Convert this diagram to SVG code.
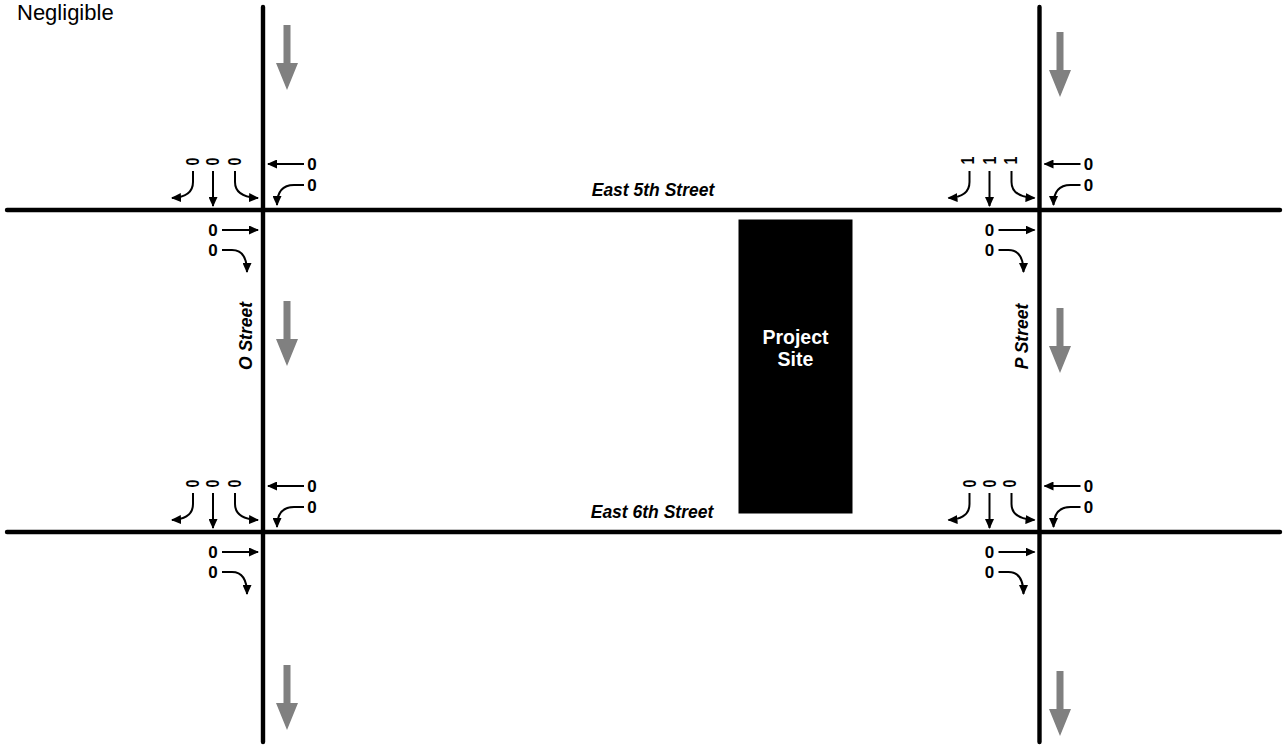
<svg xmlns="http://www.w3.org/2000/svg" xmlns:xlink="http://www.w3.org/1999/xlink" width="1286" height="745" viewBox="0 0 1286 745">
  <style>
    .road { stroke: #000; stroke-width: 4.4; stroke-linecap: round; fill: none; }
    .mv { stroke: #000; stroke-width: 2; fill: none; marker-end: url(#tip); }
    .vol { font-family: "Liberation Sans", Arial, sans-serif; font-weight: bold; font-size: 17px; fill: #000; }
    .rot { font-size: 18px; }
    .street { font-family: "Liberation Sans", Arial, sans-serif; font-weight: bold; font-style: italic; font-size: 17.5px; fill: #000; text-anchor: middle; }
    .site { font-family: "Liberation Sans", Arial, sans-serif; font-weight: bold; font-size: 19.5px; fill: #fff; text-anchor: middle; }
    .note { font-family: "Liberation Sans", Arial, sans-serif; font-size: 22px; fill: #000; }
    .flow { fill: #808080; }
  </style>
  <defs>
    <marker id="tip" viewBox="0 0 10 9" refX="9" refY="4.5" markerWidth="10" markerHeight="9" markerUnits="userSpaceOnUse" orient="auto">
      <path d="M0,0 L10,4.5 L0,9 Z" fill="#000"/>
    </marker>
    <!-- one-way traffic direction arrow (southbound) -->
    <path id="flow" class="flow" d="M-3.5,0 H3.5 V38 H11 L0,65 L-11,38 H-3.5 Z"/>
    <!-- turning-movement arrows around an intersection centred at 0,0 -->
    <g id="moves">
      <path class="mv" d="M-70,-39 V-28 Q-70,-13 -91,-12"/>
      <path class="mv" d="M-50,-39 V-4"/>
      <path class="mv" d="M-28,-39 V-28 Q-28,-13 -5,-12"/>
      <path class="mv" d="M41,-46 H5"/>
      <path class="mv" d="M41,-25 H31 Q14,-25 14,-5"/>
      <path class="mv" d="M-41,20 H-5"/>
      <path class="mv" d="M-41,40 H-31 Q-16,40 -16,62"/>
    </g>
  </defs>

  <text class="note" x="17" y="20">Negligible</text>

  <!-- street grid -->
  <g id="connectors">
    <line class="road" x1="7" y1="210" x2="1280" y2="210"/>
    <line class="road" x1="7" y1="532" x2="1280" y2="532"/>
    <line class="road" x1="263" y1="7" x2="263" y2="742"/>
    <line class="road" x1="1039.5" y1="7" x2="1039.5" y2="742"/>
  </g>

  <!-- street names -->
  <g id="street-names">
    <text class="street" x="653" y="196">East 5th Street</text>
    <text class="street" x="652" y="518">East 6th Street</text>
    <text class="street" transform="translate(251.5,336) rotate(-90)" x="0" y="0" font-size="17">O Street</text>
    <text class="street" transform="translate(1028,336.5) rotate(-90)" x="0" y="0" font-size="17">P Street</text>
  </g>

  <!-- one-way flow arrows -->
  <g id="flow-arrows">
    <use xlink:href="#flow" href="#flow" x="287" y="25"/>
    <use xlink:href="#flow" href="#flow" x="287" y="301"/>
    <use xlink:href="#flow" href="#flow" x="287" y="665"/>
    <use xlink:href="#flow" href="#flow" x="1060" y="32"/>
    <use xlink:href="#flow" href="#flow" x="1060" y="308"/>
    <use xlink:href="#flow" href="#flow" x="1060" y="671"/>
  </g>

  <!-- project site -->
  <g id="project-site">
    <rect x="738.5" y="219.5" width="114" height="294" fill="#000"/>
    <text class="site" x="795.5" y="344">Project</text>
    <text class="site" x="795.5" y="366">Site</text>
  </g>

  <!-- O Street / East 5th Street -->
  <g id="int-o-5th" transform="translate(263,210)">
    <use xlink:href="#moves" href="#moves"/>
    <g class="vol">
      <text class="rot" transform="translate(-70,-48.5) rotate(-90) scale(0.78,1)" text-anchor="middle" y="6.4">0</text>
      <text class="rot" transform="translate(-50,-48.5) rotate(-90) scale(0.78,1)" text-anchor="middle" y="6.4">0</text>
      <text class="rot" transform="translate(-28,-48.5) rotate(-90) scale(0.78,1)" text-anchor="middle" y="6.4">0</text>
      <text x="49" y="-40" text-anchor="middle">0</text>
      <text x="49" y="-19.5" text-anchor="middle">0</text>
      <text x="-50" y="26" text-anchor="middle">0</text>
      <text x="-50" y="46" text-anchor="middle">0</text>
    </g>
  </g>

  <!-- P Street / East 5th Street -->
  <g id="int-p-5th" transform="translate(1039.5,210)">
    <use xlink:href="#moves" href="#moves"/>
    <g class="vol">
      <text class="rot" transform="translate(-72,-49.5) rotate(-90) scale(0.78,1)" text-anchor="middle" y="6.4">1</text>
      <text class="rot" transform="translate(-50,-49.5) rotate(-90) scale(0.78,1)" text-anchor="middle" y="6.4">1</text>
      <text class="rot" transform="translate(-29,-49.5) rotate(-90) scale(0.78,1)" text-anchor="middle" y="6.4">1</text>
      <text x="49" y="-40" text-anchor="middle">0</text>
      <text x="49" y="-19.5" text-anchor="middle">0</text>
      <text x="-50" y="26" text-anchor="middle">0</text>
      <text x="-50" y="46" text-anchor="middle">0</text>
    </g>
  </g>

  <!-- O Street / East 6th Street -->
  <g id="int-o-6th" transform="translate(263,532)">
    <use xlink:href="#moves" href="#moves"/>
    <g class="vol">
      <text class="rot" transform="translate(-70,-48.5) rotate(-90) scale(0.78,1)" text-anchor="middle" y="6.4">0</text>
      <text class="rot" transform="translate(-50,-48.5) rotate(-90) scale(0.78,1)" text-anchor="middle" y="6.4">0</text>
      <text class="rot" transform="translate(-28,-48.5) rotate(-90) scale(0.78,1)" text-anchor="middle" y="6.4">0</text>
      <text x="49" y="-40" text-anchor="middle">0</text>
      <text x="49" y="-19.5" text-anchor="middle">0</text>
      <text x="-50" y="26" text-anchor="middle">0</text>
      <text x="-50" y="46" text-anchor="middle">0</text>
    </g>
  </g>

  <!-- P Street / East 6th Street -->
  <g id="int-p-6th" transform="translate(1039.5,532)">
    <use xlink:href="#moves" href="#moves"/>
    <g class="vol">
      <text class="rot" transform="translate(-70,-48.5) rotate(-90) scale(0.78,1)" text-anchor="middle" y="6.4">0</text>
      <text class="rot" transform="translate(-50,-48.5) rotate(-90) scale(0.78,1)" text-anchor="middle" y="6.4">0</text>
      <text class="rot" transform="translate(-30,-48.5) rotate(-90) scale(0.78,1)" text-anchor="middle" y="6.4">0</text>
      <text x="49" y="-40" text-anchor="middle">0</text>
      <text x="49" y="-19.5" text-anchor="middle">0</text>
      <text x="-50" y="26" text-anchor="middle">0</text>
      <text x="-50" y="46" text-anchor="middle">0</text>
    </g>
  </g>
</svg>
